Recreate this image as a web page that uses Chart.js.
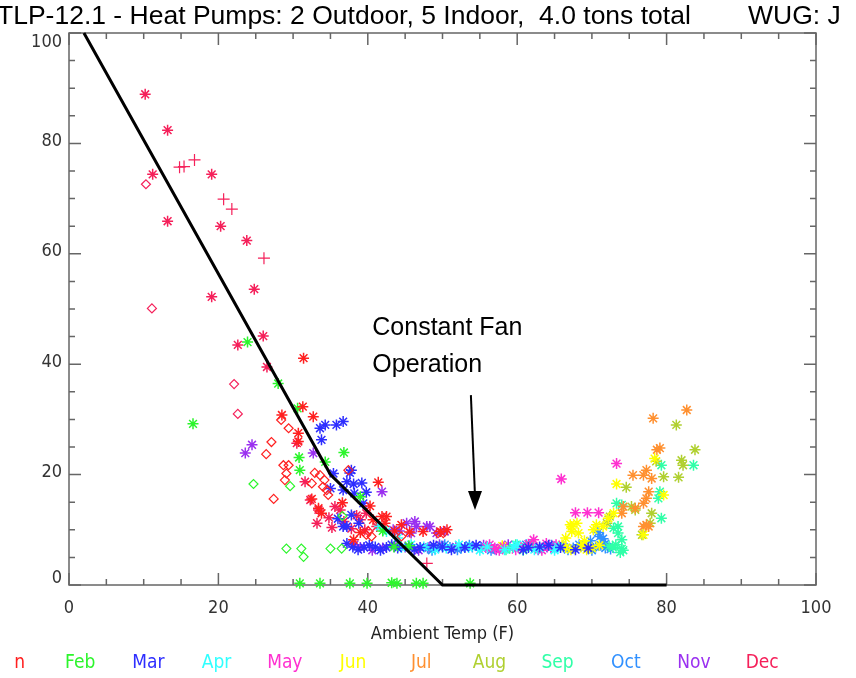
<!DOCTYPE html>
<html>
<head>
<meta charset="utf-8">
<title>TLP-12.1 Heat Pumps</title>
<script src="https://cdn.jsdelivr.net/npm/chart.js@4.4.1/dist/chart.umd.min.js"></script>
<style>
  body { margin: 0; background: #fff; overflow: hidden; }
  #wrap { position: relative; width: 856px; height: 678px; }
</style>
</head>
<body>
<div id="wrap"><canvas id="myChart" width="856" height="678"></canvas></div>
<script>
// month labels for the coloured legend under the plot
var months = ["Jan", "Feb", "Mar", "Apr", "May", "Jun", "Jul", "Aug", "Sep", "Oct", "Nov", "Dec"];
var monthColors = ["#ff2020", "#2cf52c", "#2e2eff", "#30ffff", "#ff30d0", "#ffff00",
                   "#ff9030", "#b0d030", "#30ffa8", "#3090ff", "#9a30f0", "#f5205a"];
var yTickValues = [0, 20, 40, 60, 80, 100];

// model line (ambient temp vs value)
var modelTemp  = [2, 35, 50, 80];
var modelValue = [100, 20, 0, 0];

// observed points, [temp, value]
var janStars = [[31.4,41.1],[31.3,32.3],[32.7,30.5],[28.5,30.8],[30.7,27.5],[30.7,26.0],[41.4,18.6],
  [32.5,15.6],[41.9,12.4],[42.3,11.2],[40.7,11.8],[33.4,13.9],[33.8,13.0],[40.3,14.3],[42.5,12.4],
  [44.5,10.9],[47.4,9.7],[38.1,8.2],[49.7,9.7],[50.6,10.0],[36.6,14.9],[39.0,9.5],[43.6,9.8],[45.6,9.6]];
var janDiamonds = [[28.4,29.9],[29.4,28.4],[27.1,25.9],[26.4,23.7],[29.4,21.7],[28.7,21.7],[29.1,20.2],
  [28.9,19.0],[27.4,15.6],[32.9,20.3],[33.6,19.9],[34.2,19.0],[32.5,18.4],[34.0,17.8],[34.5,17.2],
  [34.7,16.3],[37.4,20.8],[40.1,9.7],[39.8,9.1],[40.5,8.8],[44.5,8.8],[49.4,9.4],[50.1,9.4]];
var febStars = [[16.6,29.2],[23.9,44.0],[28.0,36.5],[30.6,32.0],[36.8,24.0],[30.8,23.1],[34.3,22.3],
  [30.9,20.8],[39.0,16.0],[30.9,0.3],[33.6,0.3],[37.6,0.3],[39.9,0.3],[43.2,0.4],[43.9,0.3],
  [46.5,0.3],[47.4,0.3],[53.7,0.3],[42.0,9.8],[43.5,6.9],[45.5,7.1]];
var febDiamonds = [[24.7,18.3],[29.6,17.9],[36.6,12.5],[29.1,6.6],[31.1,6.6],[31.4,5.1],[35.0,6.6],[36.5,6.6]];
var marStars = [[33.6,28.4],[34.3,29.0],[35.8,29.0],[36.7,29.6],[33.8,26.3],[35.4,20.2],[37.6,20.3],
  [37.8,20.8],[37.2,18.7],[38.1,18.3],[39.2,18.5],[36.7,17.2],[38.2,16.6],[37.8,12.7],[39.4,14.8],
  [36.7,10.6],[37.2,10.6],[37.2,7.5],[38.0,6.9],[39.5,6.8],[41.0,6.9],[42.5,6.8],[44.0,6.7],
  [45.5,6.9],[47.0,6.8],[50.0,6.9],[53.0,6.8],[61.5,6.8],[63.0,6.9],[65.8,6.8],[69.5,6.7],
  [38.7,6.4],[40.2,7.2],[41.7,6.3],[43.2,7.3],[46.2,6.4],[48.8,7.2],[51.2,6.4],[54.5,7.2],
  [60.8,6.4],[64.2,7.2],[67.8,6.4],[36.0,12.0],[38.8,11.2],[35.0,17.5],[39.8,16.8]];
var aprStars = [[41.6,10.6],[42.5,9.7],[44.5,6.8],[47.5,6.9],[50.5,6.7],[53.5,6.8],[56.0,6.9],
  [59.5,6.8],[63.0,6.7],[65.5,6.9],[45.8,7.3],[49.0,6.4],[52.2,7.3],[55.0,6.3],[58.3,6.4],
  [60.0,7.3],[62.3,6.4],[65.0,6.3],[44.0,8.5]];
var mayStars = [[65.9,19.2],[73.3,22.0],[67.8,13.1],[69.4,13.1],[70.9,13.1],[62.2,8.2],[63.9,7.5],
  [55.8,6.8],[57.0,6.7],[58.2,6.9],[60.5,6.8],[62.5,6.7],[64.5,6.8],[56.3,7.3],[57.6,6.3],
  [59.8,6.4],[61.5,7.4],[63.3,6.3],[65.2,7.3]];
var junStars = [[73.3,18.3],[67.3,10.6],[68.0,11.2],[67.1,10.9],[67.3,9.7],[68.2,9.4],[70.2,10.0],
  [70.6,10.9],[71.5,10.6],[72.2,12.1],[72.9,13.0],[78.4,22.9],[79.6,16.3],[76.9,9.1],[58.0,7.1],
  [66.5,6.8],[68.5,6.9],[70.0,6.7],[66.0,7.3],[67.2,6.4],[68.9,7.3],[69.3,6.4],[71.0,7.2],
  [66.5,8.5],[69.0,8.0]];
var julStars = [[75.5,19.9],[77.3,20.8],[78.0,19.3],[76.9,19.9],[78.7,24.5],[79.1,24.8],[78.2,30.2],
  [82.7,31.7],[77.6,16.9],[77.3,15.7],[76.9,14.8],[74.2,14.2],[74.0,13.0],[75.8,13.9],[76.9,10.6],
  [77.3,10.9],[77.6,10.6]];
var augStars = [[74.6,17.7],[78.6,22.4],[79.6,19.6],[81.3,29.0],[83.8,24.5],[82.0,22.6],[82.2,21.7],
  [81.6,19.5],[78.0,13.0],[75.8,13.6],[75.3,14.2],[72.4,12.4],[72.0,11.2],[77.8,11.2],[76.7,9.1]];
var sepStars = [[79.3,21.7],[83.6,21.7],[78.9,15.7],[79.1,16.9],[79.3,12.1],[73.3,14.8],[74.0,14.5],
  [72.9,10.3],[73.5,10.6],[73.5,9.4],[74.0,6.6],[74.2,6.3],[74.0,8.2],[59.0,6.7],[60.2,6.9],
  [61.2,6.8],[72.8,6.8],[58.5,6.4],[59.8,7.3],[60.8,6.3],[61.8,7.2],[73.2,7.3],[73.8,5.9],[72.3,7.0]];
var octStars = [[71.1,8.8],[71.5,8.4],[71.8,7.5],[48.0,6.7],[49.5,6.9],[51.0,6.8],[52.5,6.7],
  [54.0,6.9],[55.2,6.8],[62.0,6.9],[63.5,6.8],[65.0,6.7],[66.2,6.9],[67.5,6.7],[69.0,6.8],
  [70.5,6.9],[71.8,6.7],[48.6,6.3],[50.3,7.3],[52.0,6.4],[53.6,7.2],[56.5,6.3],[61.2,7.3],
  [62.8,6.4],[64.6,7.2],[66.8,6.4],[68.3,7.3],[70.0,6.3],[71.2,7.2],[72.5,6.5],[69.8,8.0],[70.8,9.5]];
var novStars = [[24.5,25.4],[23.6,23.9],[32.7,23.9],[41.9,16.9],[43.4,10.0],[45.2,11.2],[46.3,11.5],
  [47.9,10.6],[49.2,9.4],[50.3,9.7],[46.5,10.6],[48.3,10.6],[39.0,6.8],[42.0,6.7],[45.0,6.9],
  [48.2,6.8],[51.8,6.9],[56.5,6.8],[57.8,6.7],[64.0,6.9],[38.2,7.3],[40.6,6.3],[43.6,7.2],
  [46.8,6.3],[49.6,7.3],[55.5,7.2],[57.2,6.4],[58.8,7.3],[44.2,9.8],[45.8,9.4]];
var decStars = [[10.2,88.9],[13.2,82.4],[11.2,74.4],[19.1,74.4],[13.2,65.9],[20.3,65.0],[23.8,62.4],
  [24.8,53.6],[19.1,52.2],[26.0,45.1],[22.6,43.5],[26.5,39.5],[31.6,18.7],[32.3,15.4],[33.4,13.6],
  [33.2,11.2],[35.6,14.2],[36.3,13.6],[39.8,13.0],[41.2,10.6],[39.0,11.8],[39.6,10.0],[30.5,25.7],
  [34.8,12.2],[37.8,10.2],[38.5,12.6],[36.8,11.5],[35.2,10.4]];
var decPlus = [[14.8,75.7],[15.4,75.8],[16.8,77.0],[20.7,69.9],[21.8,68.1],[26.1,59.2],[47.9,3.9]];
var decDiamonds = [[10.3,72.6],[11.1,50.1],[22.1,36.4],[22.6,31.0]];

function pts(arr) {
    return arr.map(function (p) { return {x: p[0], y: p[1]}; });
}
function scatterSet(arr, monthIndex, style, r) {
    return {
        type: "scatter",
        data: pts(arr),
        pointStyle: style,
        pointRadius: r,
        pointBorderWidth: style == "star" ? 1.5 : 1.2,
        borderColor: monthColors[monthIndex],
        backgroundColor: "rgba(0,0,0,0)",
        clip: false,
        order: 2
    };
}

var narrow = "'Liberation Sans Narrow', 'DejaVu Sans Condensed', sans-serif";

// frame + inward ticks, like the original plot
var framePlugin = {
    id: "frame",
    beforeDatasetsDraw: function (chart) {
        var c = chart.ctx, a = chart.chartArea, xs = chart.scales.x, ys = chart.scales.y;
        c.save();
        c.strokeStyle = "#666";
        c.lineWidth = 1.5;
        c.strokeRect(a.left, a.top, a.right - a.left, a.bottom - a.top);
        c.beginPath();
        for (var v = 0; v <= 100; v += 5) {
            var len = (v % 20 == 0) ? 12 : 6;
            var px = xs.getPixelForValue(v);
            var py = ys.getPixelForValue(v);
            c.moveTo(px, a.bottom); c.lineTo(px, a.bottom - len);
            c.moveTo(px, a.top); c.lineTo(px, a.top + len);
            c.moveTo(a.left, py); c.lineTo(a.left + len, py);
            c.moveTo(a.right, py); c.lineTo(a.right - len, py);
        }
        c.stroke();

        // y tick labels; the end ones sit inside the frame as in the original
        c.fillStyle = "#333";
        c.font = "18px " + narrow;
        c.textAlign = "right";
        c.textBaseline = "middle";
        yTickValues.forEach(function (v) {
            var off = v == 100 ? 9 : (v == 0 ? -7 : -2);
            c.fillText(String(v), a.left - 7, ys.getPixelForValue(v) + off);
        });
        c.restore();
    },
    afterDraw: function (chart) {
        var c = chart.ctx, a = chart.chartArea, xs = chart.scales.x, ys = chart.scales.y;
        c.save();
        // title (cropped on both sides in the original)
        c.fillStyle = "#000";
        c.font = "26.5px 'Liberation Sans', Arial, sans-serif";
        c.textBaseline = "middle";
        c.textAlign = "left";
        c.fillText("TLP-12.1 - Heat Pumps: 2 Outdoor, 5 Indoor,  4.0 tons total", -3, 17);
        c.fillText("WUG: J", 748, 17);

        // x axis title
        c.fillStyle = "#222";
        c.font = "18px " + narrow;
        c.textAlign = "center";
        c.fillText("Ambient Temp (F)", (a.left + a.right) / 2, 634);

        // month legend (left edge cropped in the original)
        c.save();
        c.beginPath();
        c.rect(14, 640, 842, 38);
        c.clip();
        c.font = "19px " + narrow;
        for (var i = 0; i < months.length; i++) {
            c.fillStyle = monthColors[i];
            c.fillText(months[i], 12 + 68.2 * i, 663);
        }
        c.restore();

        // annotation
        c.fillStyle = "#000";
        c.font = "25px 'Liberation Sans', Arial, sans-serif";
        c.textAlign = "left";
        c.textBaseline = "middle";
        c.fillText("Constant Fan", xs.getPixelForValue(40.6), ys.getPixelForValue(46.6));
        c.fillText("Operation", xs.getPixelForValue(40.6), ys.getPixelForValue(39.9));

        var x0 = xs.getPixelForValue(53.8), y0 = ys.getPixelForValue(34.4);
        var x1 = xs.getPixelForValue(54.35), y1 = ys.getPixelForValue(13.6);
        c.strokeStyle = "#000";
        c.lineWidth = 2;
        c.beginPath();
        c.moveTo(x0, y0); c.lineTo(x1, y1 - 14);
        c.stroke();
        c.beginPath();
        c.moveTo(x1, y1);
        c.lineTo(x1 - 7, y1 - 19);
        c.lineTo(x1 + 7, y1 - 19);
        c.closePath();
        c.fill();
        c.restore();
    }
};

var datasets = [
    {
        type: "line",
        data: modelTemp.map(function (t, i) { return {x: t, y: modelValue[i]}; }),
        borderColor: "#000",
        borderWidth: 3,
        pointRadius: 0,
        fill: false,
        clip: false,
        order: 0
    },
    scatterSet(janStars, 0, "star", 5.5),
    scatterSet(janDiamonds, 0, "rectRot", 4.5),
    scatterSet(febStars, 1, "star", 5.5),
    scatterSet(febDiamonds, 1, "rectRot", 4.5),
    scatterSet(marStars, 2, "star", 5.5),
    scatterSet(aprStars, 3, "star", 5.5),
    scatterSet(mayStars, 4, "star", 5.5),
    scatterSet(junStars, 5, "star", 5.5),
    scatterSet(julStars, 6, "star", 5.5),
    scatterSet(augStars, 7, "star", 5.5),
    scatterSet(sepStars, 8, "star", 5.5),
    scatterSet(octStars, 9, "star", 5.5),
    scatterSet(novStars, 10, "star", 5.5),
    scatterSet(decStars, 11, "star", 5.5),
    scatterSet(decPlus, 11, "cross", 6),
    scatterSet(decDiamonds, 11, "rectRot", 4.5)
];

var ctx = document.getElementById("myChart").getContext("2d");
var myChart = new Chart(ctx, {
    type: "scatter",
    data: {datasets: datasets},
    options: {
        responsive: false,
        animation: false,
        events: [],
        layout: {padding: {left: 0, right: 40, top: 33, bottom: 0}},
        plugins: {legend: {display: false}, title: {display: false}, tooltip: {enabled: false}},
        scales: {
            x: {
                type: "linear", min: 0, max: 100,
                grid: {display: false}, border: {display: false},
                ticks: {stepSize: 20, padding: 5, color: "#333", font: {size: 18, family: narrow}},
                afterFit: function (s) { s.height = 93; }
            },
            y: {
                type: "linear", min: 0, max: 100,
                grid: {display: false}, border: {display: false},
                ticks: {display: false, stepSize: 20},
                afterFit: function (s) { s.width = 69; }
            }
        }
    },
    plugins: [framePlugin]
});
</script>
</body>
</html>
